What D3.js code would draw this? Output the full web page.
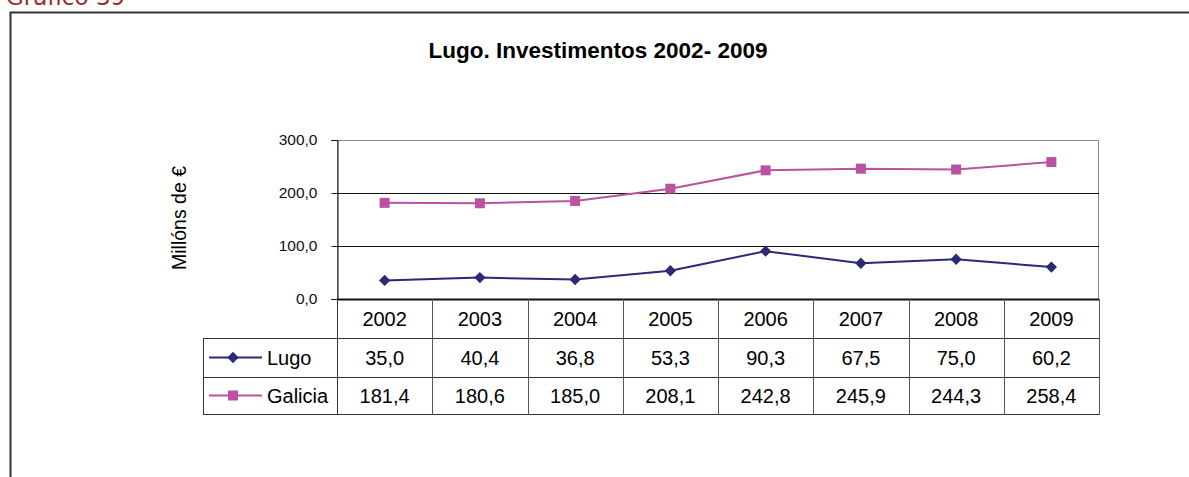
<!DOCTYPE html>
<html>
<head>
<meta charset="utf-8">
<script src="https://cdn.jsdelivr.net/npm/d3@7"></script>
<style>
  body { margin: 0; background: #fff; }
  svg text { font-family: "Liberation Sans", Arial, sans-serif; }
</style>
</head>
<body>
<svg width="1189" height="477"></svg>
<script>
var years = ["2002", "2003", "2004", "2005", "2006", "2007", "2008", "2009"];
var lugo = [35.0, 40.4, 36.8, 53.3, 90.3, 67.5, 75.0, 60.2];
var galicia = [181.4, 180.6, 185.0, 208.1, 242.8, 245.9, 244.3, 258.4];
var yTicks = [0, 100, 200, 300];

var series = [
  { name: "Lugo", values: lugo, color: "#2b2a77", rot: 45, size: 64 },
  { name: "Galicia", values: galicia, color: "#b9529f", rot: 0, size: 100 }
];

(function() {
  var svg = d3.select("svg");
  var fmt = function(v) { return d3.format(".1f")(v).replace(".", ","); };

  // outer frame + caption
  svg.append("text").attr("x", 6).attr("y", 5)
     .attr("font-size", 23).attr("fill", "#9c2b2b")
     .style("font-family", "DejaVu Sans, sans-serif").text("Gráfico 39");
  svg.append("path").attr("d", "M10.5,477 V12.5 H1189")
     .attr("fill", "none").attr("stroke", "#333").attr("stroke-width", 2);

  svg.append("text").attr("x", 598).attr("y", 58)
     .attr("text-anchor", "middle").attr("font-size", 22.5).attr("font-weight", "bold")
     .text("Lugo. Investimentos 2002- 2009");

  var pLeft = 337, pRight = 1099, pTop = 140, pBottom = 299;

  var x = d3.scaleBand().domain(years).range([pLeft, pRight]);
  var y = d3.scaleLinear().domain([0, 300]).range([pBottom, pTop]);

  // plot border
  svg.append("rect").attr("x", pLeft + 0.5).attr("y", pTop + 0.5)
     .attr("width", pRight - pLeft - 1).attr("height", pBottom - pTop)
     .attr("fill", "none").attr("stroke", "#888");

  // gridlines
  svg.append("g").selectAll("line").data([100, 200]).enter().append("line")
     .attr("x1", pLeft).attr("x2", pRight)
     .attr("y1", function(d) { return Math.round(y(d)) + 0.5; })
     .attr("y2", function(d) { return Math.round(y(d)) + 0.5; })
     .attr("stroke", "#111");

  var yAxis = svg.append("g").attr("transform", "translate(" + (pLeft + 0.5) + ",0)")
     .call(d3.axisLeft(y).tickValues(yTicks).tickFormat(fmt).tickSize(6).tickPadding(14));
  yAxis.select(".domain").attr("stroke", "#111");
  yAxis.selectAll(".tick line").attr("stroke", "#111");
  yAxis.selectAll("text").attr("font-size", 15.5).attr("fill", "#111")
     .attr("font-family", "Liberation Sans, Arial, sans-serif");

  svg.append("text").attr("transform", "translate(186,218) rotate(-90)")
     .attr("text-anchor", "middle").attr("font-size", 19.5).text("Millóns de €");

  // lines
  var line = d3.line()
    .x(function(d, i) { return x(years[i]) + x.bandwidth() / 2; })
    .y(function(d) { return y(d); });

  series.forEach(function(s) {
    svg.append("path").datum(s.values).attr("d", line)
       .attr("fill", "none").attr("stroke", s.color).attr("stroke-width", 2);
    svg.append("g").selectAll("path").data(s.values).enter().append("path")
       .attr("d", d3.symbol().type(d3.symbolSquare).size(s.size))
       .attr("transform", function(d, i) {
         return "translate(" + (x(years[i]) + x.bandwidth() / 2) + "," + y(d) + ") rotate(" + s.rot + ")";
       })
       .attr("fill", s.color);
  });

  // data table
  var rowH = [299, 338, 377, 414];
  var tLeft = 203;
  var tbl = svg.append("g");
  var stroke = "#333";

  tbl.append("line").attr("x1", pLeft).attr("x2", pRight).attr("y1", pBottom + 0.5).attr("y2", pBottom + 0.5)
     .attr("stroke", "#111").attr("stroke-width", 2);
  [rowH[1], rowH[2], rowH[3]].forEach(function(yy) {
    tbl.append("line").attr("x1", tLeft).attr("x2", pRight).attr("y1", yy + 0.5).attr("y2", yy + 0.5)
       .attr("stroke", stroke);
  });
  tbl.append("line").attr("x1", tLeft + 0.5).attr("x2", tLeft + 0.5)
     .attr("y1", rowH[1]).attr("y2", rowH[3] + 1).attr("stroke", stroke);
  tbl.selectAll(".vl").data(years.concat(["end"])).enter().append("line")
     .attr("x1", function(d, i) { return Math.round(pLeft + i * x.step()) + 0.5; })
     .attr("x2", function(d, i) { return Math.round(pLeft + i * x.step()) + 0.5; })
     .attr("y1", rowH[0]).attr("y2", rowH[3] + 1)
     .attr("stroke", function(d, i) { return i === 0 ? stroke : "#555"; });

  tbl.selectAll(".yr").data(years).enter().append("text")
     .attr("x", function(d) { return x(d) + x.bandwidth() / 2; })
     .attr("y", (rowH[0] + rowH[1]) / 2 + 7)
     .attr("text-anchor", "middle").attr("font-size", 20).text(function(d) { return d; });

  series.forEach(function(s, r) {
    var cy = (rowH[r + 1] + rowH[r + 2]) / 2;
    tbl.selectAll(".v" + r).data(s.values).enter().append("text")
       .attr("x", function(d, i) { return x(years[i]) + x.bandwidth() / 2; })
       .attr("y", cy + 7)
       .attr("text-anchor", "middle").attr("font-size", 20).text(fmt);
    tbl.append("line").attr("x1", 209).attr("x2", 262).attr("y1", cy).attr("y2", cy)
       .attr("stroke", s.color).attr("stroke-width", 2);
    tbl.append("path").attr("d", d3.symbol().type(d3.symbolSquare).size(s.size))
       .attr("transform", "translate(233," + cy + ") rotate(" + s.rot + ")").attr("fill", s.color);
    tbl.append("text").attr("x", 267).attr("y", cy + 7)
       .attr("font-size", 20).text(s.name);
  });
})();
</script>
</body>
</html>
